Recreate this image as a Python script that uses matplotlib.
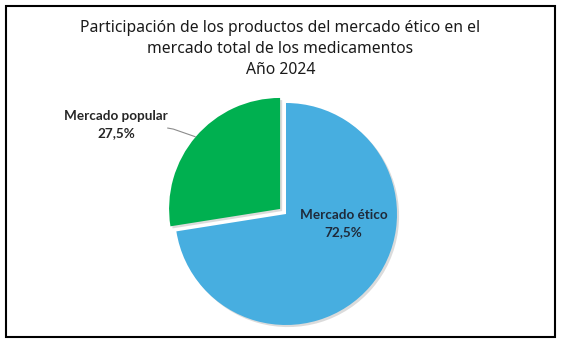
import matplotlib
matplotlib.use("Agg")
import matplotlib.pyplot as plt
import matplotlib.patheffects as pe
import numpy as np
from matplotlib.patches import Rectangle

plt.rcParams['font.family'] = ['Noto Sans', 'DejaVu Sans']

categories = ["Mercado ético", "Mercado popular"]
values = [72.5, 27.5]
value_labels = ["72,5%", "27,5%"]
colors = ["#47AEE0", "#00B050"]
explode = [0.0, 0.07]
title = "Participación de los productos del mercado ético en el\nmercado total de los medicamentos\nAño 2024"

W, H = 561, 343
fig = plt.figure(figsize=(W / 100, H / 100), dpi=100)

# pie geometry in pixels
cx, cy, R = 286, 214, 111
lim = 2.5
size = 2 * lim * R
ax = fig.add_axes([(cx - size / 2) / W, (H - cy - size / 2) / H, size / W, size / H])
ax.axis("off")

wedges, _ = ax.pie(values, colors=colors, startangle=90, counterclock=False,
                   explode=explode, radius=1.0, wedgeprops=dict(linewidth=0))
ax.set_xlim(-lim, lim)
ax.set_ylim(-lim, lim)
ax.set_aspect("equal")
for w in wedges:
    w.set_path_effects([pe.SimplePatchShadow(offset=(1.5, -1.5), shadow_rgbFace="#9a9a9a", alpha=0.35),
                        pe.Normal()])

lab_font = ['Lato', 'DejaVu Sans']
# label for ético inside
ax.text(0.52, -0.085, f"{categories[0]}\n{value_labels[0]}", ha="center", va="center",
        fontsize=9.7, fontweight="bold", color="#1f2a3a", linespacing=1.5, family=lab_font)

# label for popular outside with leader line
lx, ly = -1.53, 0.81
ax.text(lx, ly, f"{categories[1]}\n{value_labels[1]}", ha="center", va="center",
        fontsize=9.7, fontweight="bold", color="#262626", linespacing=1.5, family=lab_font)
w = wedges[1]
mid = np.deg2rad((w.theta1 + w.theta2) / 2)
ex, ey = w.center
px, py = ex + np.cos(mid) * 1.0, ey + np.sin(mid) * 1.0
sx, sy = -1.07, 0.775
kx = sx + 0.055
ax.plot([sx, kx, px], [sy, sy - 0.01, py], color="#8c8c8c", lw=0.8, solid_capstyle="butt")

fig.text(0.5, 1 - 49 / H, title, ha="center", va="center", fontsize=11.3,
         color="#1a1a1a", linespacing=1.42)

fig.add_artist(Rectangle((5.5 / W, 1 - 336.5 / H), 549.5 / W, 330.5 / H,
                         transform=fig.transFigure, fill=False, edgecolor="black", lw=1.5))

fig.savefig("out.png", dpi=100)
